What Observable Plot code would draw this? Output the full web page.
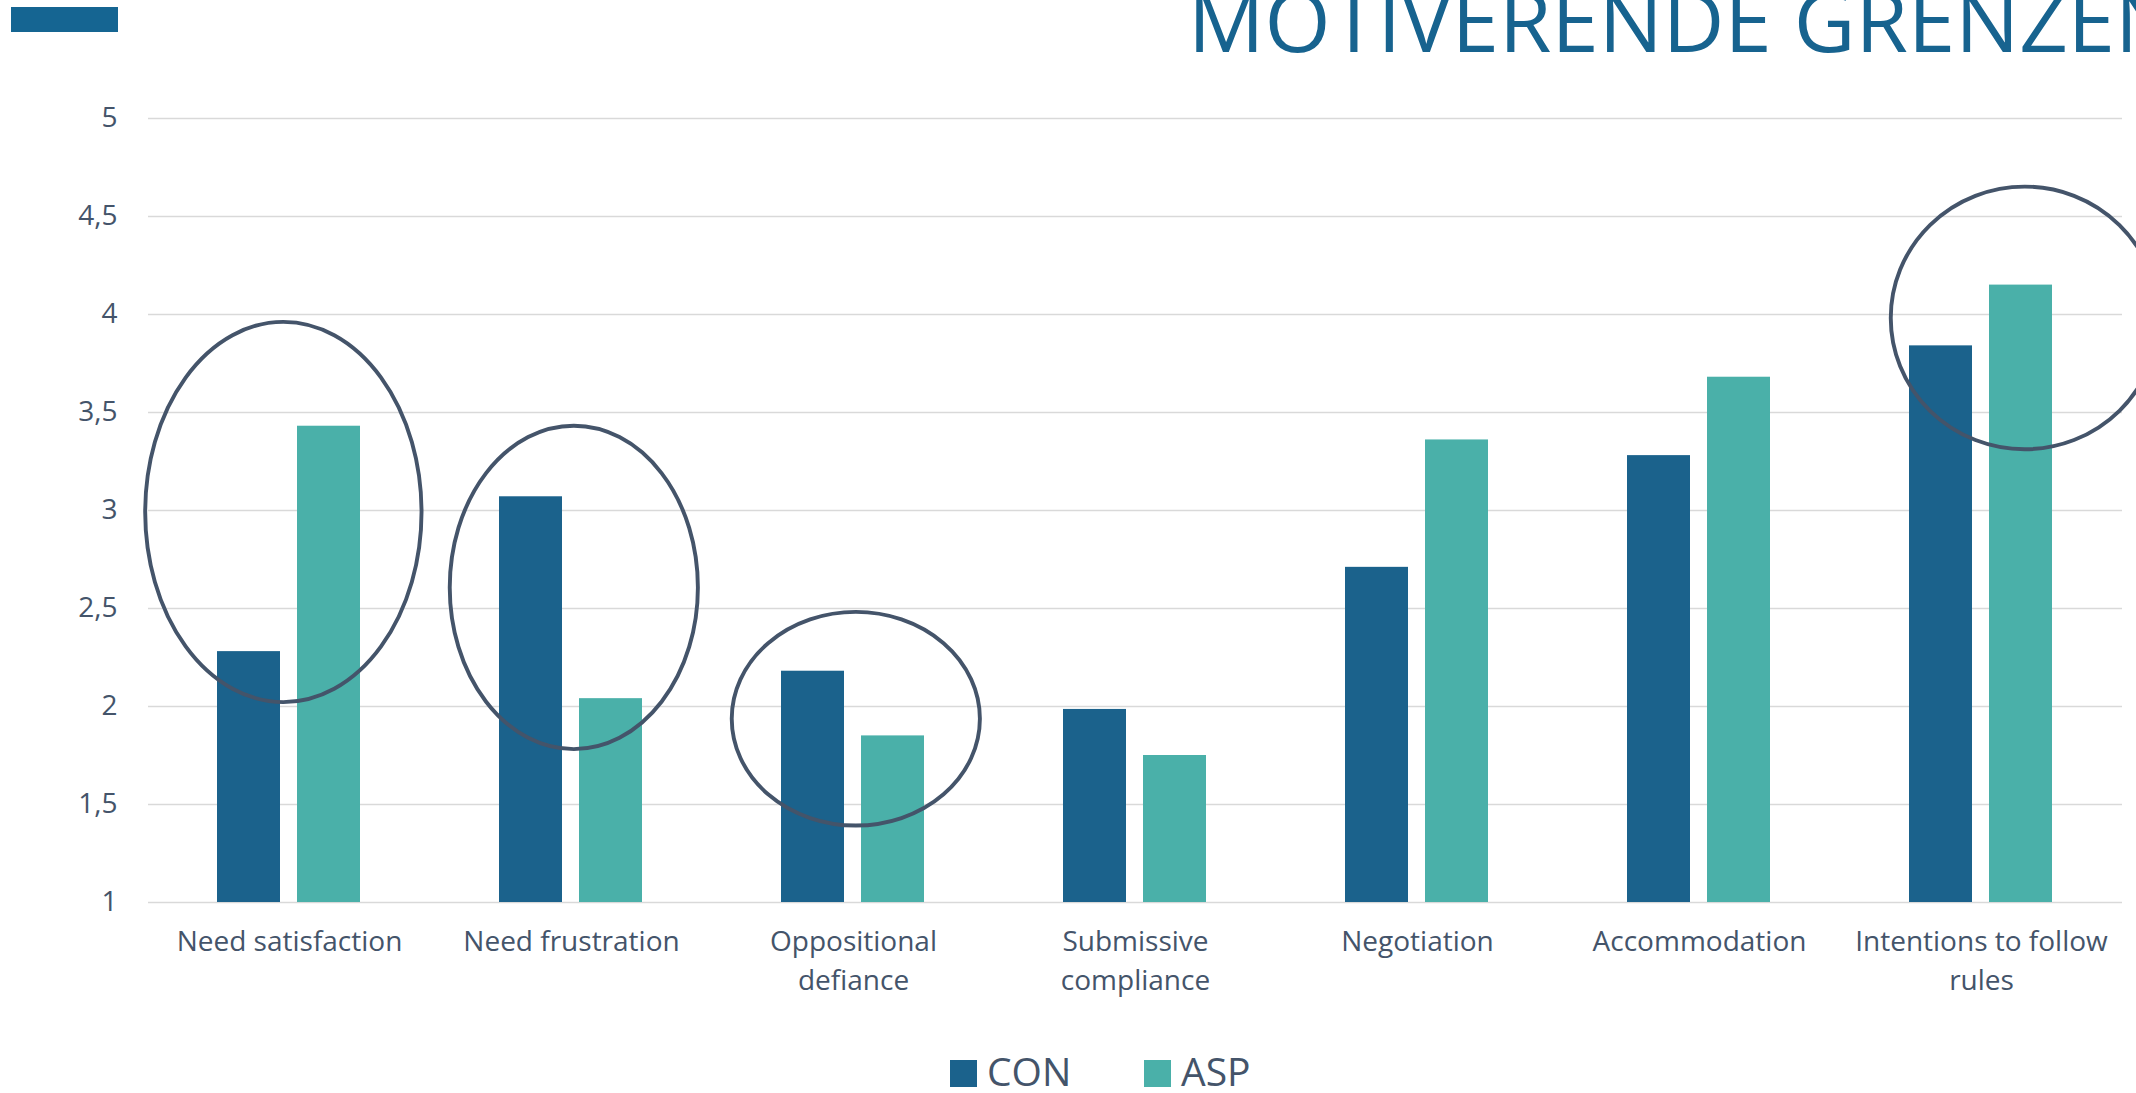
<!DOCTYPE html>
<html>
<head>
<meta charset="utf-8">
<script src="https://cdn.jsdelivr.net/npm/d3@7"></script>
<script src="https://cdn.jsdelivr.net/npm/@observablehq/plot@0.6"></script>
<style>
  html, body { margin: 0; padding: 0; background: #ffffff; overflow: hidden; }
  body { width: 2136px; height: 1093px; font-family: "Open Sans", "Noto Sans", sans-serif; }
  svg { display: block; overflow: visible; }
</style>
</head>
<body>
<svg id="header" width="2136" height="62"></svg>
<div id="chart"></div>
<svg id="legend" width="2136" height="58"></svg>
<script>
// ---- data ----
const titleText = "MOTIVERENDE GRENZEN";
const categories = [
  "Need satisfaction",
  "Need frustration",
  "Oppositional defiance",
  "Submissive compliance",
  "Negotiation",
  "Accommodation",
  "Intentions to follow rules"
];
const tickLabels = [
  "Need satisfaction",
  "Need frustration",
  "Oppositional\ndefiance",
  "Submissive\ncompliance",
  "Negotiation",
  "Accommodation",
  "Intentions to follow\nrules"
];
const series = ["CON", "ASP"];
const conValues = [2.28, 3.07, 2.18, 1.985, 2.71, 3.28, 3.84];
const aspValues = [3.43, 2.04, 1.85, 1.75, 3.36, 3.68, 4.15];
const yTicks = [1, 1.5, 2, 2.5, 3, 3.5, 4, 4.5, 5];
// hand-drawn highlight circles (value range they enclose)
const highlightCategories = ["Need satisfaction", "Need frustration", "Oppositional defiance", "Intentions to follow rules"];
const highlightLow = [2.02, 1.78, 1.39, 3.31];
const highlightHigh = [3.96, 3.43, 2.48, 4.65];

// ---- styles ----
const colors = ["#1b628c", "#4ab0a9"];
const textColor = "#44546a";
const titleColor = "#17638f";
const highlightShape = [ // offset and half-width as fraction of the band
  {dx: -0.02, rx: 0.49},
  {dx: 0.01, rx: 0.44},
  {dx: 0.01, rx: 0.44},
  {dx: 0.155, rx: 0.475}
];

// header
const header = d3.select("#header");
header.append("rect").attr("x", 11).attr("y", 7).attr("width", 107).attr("height", 25).attr("fill", "#156592");
header.append("text").attr("x", 1188).attr("y", 52)
  .attr("font-family", "'Open Sans', sans-serif").attr("font-weight", 400)
  .attr("font-size", 85).attr("fill", titleColor).text(titleText);

// chart
const rows = categories.flatMap((c, i) => [
  {category: c, series: series[0], value: conValues[i]},
  {category: c, series: series[1], value: aspValues[i]}
]);

const chart = Plot.plot({
  width: 2136,
  height: 973,
  marginTop: 56,
  marginBottom: 133,
  marginLeft: 148,
  marginRight: 14,
  style: {fontSize: "28px", fontFamily: "'Open Sans', sans-serif", color: textColor, background: "#ffffff"},
  fx: {domain: categories, padding: 0, axis: null, label: null},
  x: {domain: series, axis: null, paddingInner: 0.21, paddingOuter: 0.846},
  y: {domain: [1, 5], ticks: yTicks, tickFormat: d => String(d).replace(".", ","), tickSize: 0, tickPadding: 31, label: null},
  color: {domain: series, range: colors},
  marks: [
    Plot.ruleY(yTicks, {stroke: "#d9d9d9", strokeWidth: 1.6}),
    Plot.barY(rows, {fx: "category", x: "series", y1: 1, y2: "value", fill: "series"}),
    Plot.text(categories, {fx: d => d, text: (d, i) => tickLabels[i].split("\n")[0], frameAnchor: "bottom", dy: 48, fill: textColor}),
    Plot.text(categories, {fx: d => d, text: (d, i) => tickLabels[i].split("\n")[1] || "", frameAnchor: "bottom", dy: 87, fill: textColor})
  ]
});
document.getElementById("chart").appendChild(chart);

// highlight circles drawn through the plot's scales
const fxs = chart.scale("fx");
const ys = chart.scale("y");
const band = d3.scaleBand(fxs.domain, fxs.range)
  .paddingInner(fxs.paddingInner ?? 0).paddingOuter(fxs.paddingOuter ?? 0).align(fxs.align ?? 0.5);
const yLin = d3.scaleLinear(ys.domain, ys.range);
const svgSel = d3.select(chart.tagName.toLowerCase() === "svg" ? chart : chart.querySelector("svg"));
const g = svgSel.append("g").attr("fill", "none").attr("stroke", textColor).attr("stroke-width", 3.9);
highlightCategories.forEach((c, i) => {
  const bw = band.bandwidth();
  const cx = band(c) + bw / 2 + highlightShape[i].dx * bw;
  const y1 = yLin(highlightHigh[i]);
  const y2 = yLin(highlightLow[i]);
  g.append("ellipse")
    .attr("cx", cx).attr("cy", (y1 + y2) / 2)
    .attr("rx", highlightShape[i].rx * bw).attr("ry", Math.abs(y2 - y1) / 2);
});

// legend
const legend = d3.select("#legend");
const legendX = [950, 1144];
series.forEach((s, i) => {
  legend.append("rect").attr("x", legendX[i]).attr("y", 25).attr("width", 27).attr("height", 27).attr("fill", colors[i]);
  legend.append("text").attr("x", legendX[i] + 37).attr("y", 51)
    .attr("font-family", "'Open Sans', sans-serif").attr("font-size", 39).attr("fill", textColor).text(s);
});
</script>
</body>
</html>
